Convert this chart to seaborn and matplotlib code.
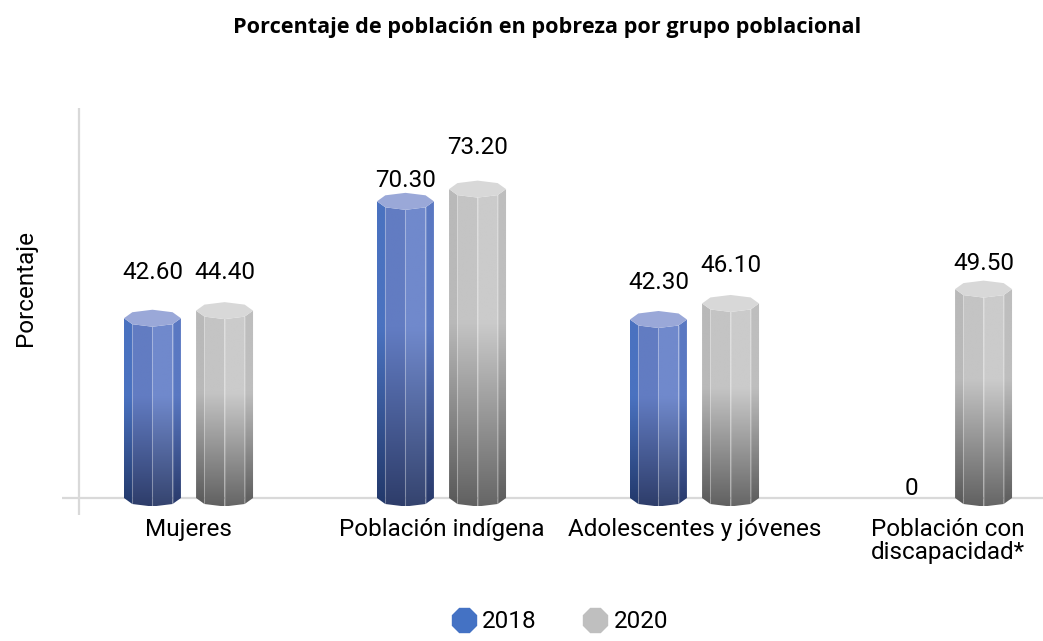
import numpy as np
import pandas as pd
import seaborn as sns
import matplotlib.pyplot as plt
from matplotlib.patches import Polygon
from matplotlib.lines import Line2D
from matplotlib.colors import to_rgb

# datos
categorias = ['Mujeres', 'Población indígena', 'Adolescentes y jóvenes',
              'Población con\ndiscapacidad*']
anios = ['2018', '2020']
valores_2018 = [42.6, 70.3, 42.3, 0]
valores_2020 = [44.4, 73.2, 46.1, 49.5]

df = pd.DataFrame({
    'grupo': categorias * 2,
    'anio': [anios[0]] * len(categorias) + [anios[1]] * len(categorias),
    'valor': valores_2018 + valores_2020,
})

colores = {'2018': '#4472C4', '2020': '#BFBFBF'}
# colores de cada cara del prisma (arriba / abajo) y de la tapa
caras_arriba = {
    '2018': ['#4a72c0', '#627cc2', '#7089cc', '#5a78c2'],
    '2020': ['#b9b9b9', '#c4c4c4', '#cbcbcb', '#bebebe'],
}
caras_abajo = {
    '2018': ['#22386a', '#2e3d6a', '#35446f', '#28396a'],
    '2020': ['#585858', '#616161', '#666666', '#5b5b5b'],
}
tapas = {'2018': '#9aa8d8', '2020': '#d8d8d8'}
# separacion (px) entre la tapa y la etiqueta, como en el original
sep_etiquetas = {'2018': [31, 6, 22, 0], '2020': [23, 27, 23, 11]}

sns.set_theme(style='white')
plt.rcParams['font.family'] = ['Roboto', 'DejaVu Sans']

W, H = 1043, 641
fig = plt.figure(figsize=(W / 100, H / 100), dpi=100)
ax = fig.add_axes([62 / W, (H - 515) / H, 981 / W, 407 / H])

sns.barplot(data=df, x='grupo', y='valor', hue='anio', palette=colores,
            width=0.57, gap=0.21, legend=False, ax=ax)

px = 4.22                 # pixeles por unidad
ymin, ymax = -17 / px, 390 / px
b = 8.5 / px              # semieje vertical de la tapa
angs = np.deg2rad([-180, -135, -90, -45, 0])
fs = 17.5
texto = dict(fontsize=fs, color='#000000')


def gradiente(c1, c2, n=160, plano=0.42):
    t = np.linspace(0, 1, n)
    t = np.clip((t - plano) / (1 - plano), 0, 1)[:, None]
    c = (1 - t) * np.array(to_rgb(c1)) + t * np.array(to_rgb(c2))
    return c[:, None, :]


for anio, cont in zip(anios, ax.containers):
    for bar, sep in zip(cont, sep_etiquetas[anio]):
        bar.set_visible(False)
        x0, w, h = bar.get_x(), bar.get_width(), bar.get_height()
        cx, a = x0 + w / 2, w / 2
        if h <= 0:
            ax.annotate('0', (cx, 0), xytext=(0, 3), textcoords='offset pixels',
                        ha='center', va='baseline', **texto)
            continue
        xs = cx + a * np.cos(angs)
        dy = b * np.sin(angs)
        for i in range(4):
            cara = Polygon([(xs[i], h + dy[i]), (xs[i + 1], h + dy[i + 1]),
                            (xs[i + 1], dy[i + 1]), (xs[i], dy[i])],
                           closed=True, facecolor='none', edgecolor='none')
            ax.add_patch(cara)
            im = ax.imshow(gradiente(caras_arriba[anio][i], caras_abajo[anio][i]),
                           extent=[xs[i], xs[i + 1], -b, h], aspect='auto',
                           origin='upper', zorder=2, interpolation='bilinear')
            im.set_clip_path(cara)
        for i in range(1, 4):
            ax.plot([xs[i], xs[i]], [dy[i], h + dy[i]], color='white',
                    alpha=0.18, lw=0.8, zorder=3)
        t = np.deg2rad(np.arange(0, 360, 45))
        ax.add_patch(Polygon(np.column_stack([cx + a * np.cos(t), h + b * np.sin(t)]),
                             closed=True, facecolor=tapas[anio], edgecolor='none',
                             zorder=4))
        ax.annotate(f'{h:.2f}', (cx, h + b), xytext=(0, sep), textcoords='offset pixels',
                    ha='center', va='baseline', **texto)

ax.axhline(0, color='#d9d9d9', lw=1.6, zorder=1)
ax.axvline(-0.5 + 17 / 253, color='#d9d9d9', lw=1.6, zorder=1)
ax.set_xlim(-0.5, -0.5 + 981 / 253)
ax.set_ylim(ymin, ymax)
sns.despine(ax=ax, left=True, bottom=True)
ax.set_yticks([])
ax.set_xlabel('')
ax.set_ylabel('Porcentaje', **texto)
ax.yaxis.set_label_coords(-25 / 981, 0.558)
ax.tick_params(axis='x', length=0, pad=2, labelsize=fs, labelcolor='#000000')
for lab in ax.get_xticklabels():
    lab.set_linespacing(1.0)

fig.suptitle('Porcentaje de población en pobreza por grupo poblacional',
             x=547 / W, y=1 - 27 / H, va='center', fontsize=15.6,
             fontweight='bold', color='#000000', family=['Open Sans', 'DejaVu Sans'])

handles = [Line2D([], [], marker='8', ls='', color=colores[a], markersize=18)
           for a in anios]
fig.legend(handles, anios, loc='center', bbox_to_anchor=(560 / W, 1 - 622 / H),
           ncol=2, frameon=False, fontsize=fs, handlelength=1.0,
           handletextpad=0.25, columnspacing=1.9, labelcolor='#000000')

fig.savefig('out.png', dpi=100)
